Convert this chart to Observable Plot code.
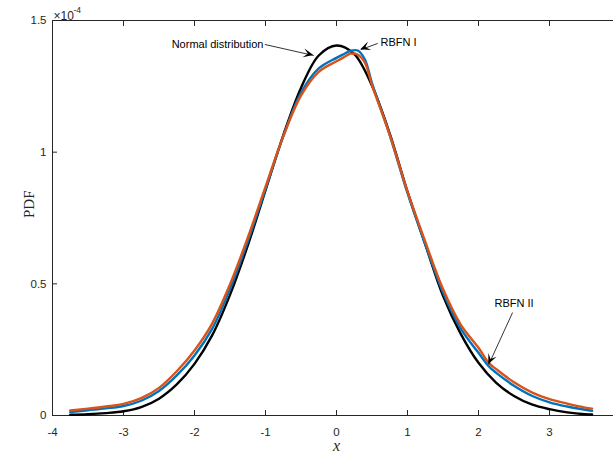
<!DOCTYPE html>
<html><head><meta charset="utf-8">
<script src="https://cdn.jsdelivr.net/npm/d3@7"></script>
<script src="https://cdn.jsdelivr.net/npm/@observablehq/plot@0.6"></script>
<style>body{margin:0;background:#fff}</style>
</head><body><div id="chart"></div>
<script>
// Normal distribution (black)
const xNormal = [-3.75,-3.5,-3.25,-3,-2.75,-2.5,-2.25,-2,-1.75,-1.5,-1.25,-1,-0.75,-0.5,-0.25,0,0.25,0.5,0.75,1,1.25,1.5,1.75,2,2.25,2.5,2.75,3,3.25,3.5,3.6];
const yNormal = [0.003,0.005,0.009,0.016,0.032,0.064,0.118,0.196,0.305,0.458,0.645,0.855,1.064,1.244,1.367,1.405,1.372,1.252,1.070,0.850,0.650,0.455,0.310,0.200,0.124,0.074,0.042,0.024,0.012,0.005,0.004];
// RBFN I (blue)
const xRbfn1 = [-3.75,-3.5,-3.25,-3,-2.75,-2.5,-2.25,-2,-1.75,-1.5,-1.25,-1,-0.75,-0.5,-0.25,0,0.1,0.2,0.3,0.4,0.5,0.75,1,1.25,1.5,1.75,2,2.15,2.25,2.5,2.75,3,3.25,3.5,3.6];
const yRbfn1 = [0.013,0.020,0.027,0.036,0.056,0.093,0.152,0.228,0.330,0.480,0.660,0.860,1.060,1.225,1.318,1.358,1.372,1.385,1.386,1.352,1.262,1.065,0.845,0.650,0.468,0.330,0.238,0.185,0.162,0.113,0.075,0.050,0.034,0.022,0.018];
// RBFN II (orange)
const xRbfn2 = xRbfn1;
const yRbfn2 = [0.019,0.026,0.034,0.044,0.066,0.105,0.168,0.247,0.350,0.498,0.675,0.868,1.060,1.215,1.305,1.345,1.360,1.374,1.370,1.340,1.255,1.066,0.850,0.660,0.480,0.345,0.257,0.198,0.176,0.126,0.088,0.062,0.045,0.030,0.026];

const xTicks = [-4,-3,-2,-1,0,1,2,3,4];
const yTicks = [0,0.5,1,1.5];

// annotations (data units)
const annText = ["Normal distribution","RBFN I","RBFN II"];
const annX = [-1.03, 0.62, 2.5];
const annY = [1.409, 1.418, 0.425];
const annAnchor = ["end","start","middle"];
const arrX1 = [-1.01, 0.58, 2.48];
const arrY1 = [1.409, 1.413, 0.391];
const arrX2 = [-0.32, 0.342, 2.145];
const arrY2 = [1.367, 1.389, 0.194];

const toRows = (xs, ys) => xs.map((x, i) => ({x, y: ys[i]}));
const normal = toRows(xNormal, yNormal);
const rbfn1 = toRows(xRbfn1, yRbfn1);
const rbfn2 = toRows(xRbfn2, yRbfn2);
const ann = annText.map((t, i) => ({t, x: annX[i], y: annY[i], a: annAnchor[i]}));
const arrows = arrX1.map((x1, i) => ({x1, y1: arrY1[i], x2: arrX2[i], y2: arrY2[i]}));

const axisColor = "#262626";
const font = "Liberation Sans, Arial, Helvetica, sans-serif";
const serif = "Liberation Serif, Times New Roman, serif";

const annMark = anchor => Plot.text(ann.filter(d => d.a === anchor), {x: "x", y: "y", text: "t", textAnchor: anchor, fill: "#000", fontSize: 11});

const chart = Plot.plot({
  width: 613, height: 452,
  marginLeft: 52, marginRight: 0, marginTop: 20, marginBottom: 37,
  x: {domain: [-4, 4], range: [52, 620], axis: null},
  y: {domain: [0, 1.5], axis: null},
  style: {fontFamily: font, fontSize: "11px", color: axisColor, background: "white"},
  marks: [
    Plot.ruleY([0], {stroke: axisColor}),
    Plot.ruleY([1.5], {stroke: axisColor}),
    Plot.ruleX([-4], {stroke: axisColor}),
    Plot.axisX({anchor: "bottom", ticks: xTicks, tickSize: 5, dy: -5, tickFormat: () => "", label: null, stroke: axisColor}),
    Plot.axisX({anchor: "top", ticks: xTicks, tickSize: 5, dy: 5, tickFormat: () => "", label: null, stroke: axisColor}),
    Plot.axisY({anchor: "left", ticks: yTicks, tickSize: 5, dx: 5, tickFormat: () => "", label: null, stroke: axisColor}),
    Plot.axisX({anchor: "bottom", ticks: xTicks.slice(0, 8), tickSize: 0, tickPadding: 12, tickFormat: d => String(d), label: null, fill: axisColor, fontSize: 11.5}),
    Plot.axisY({anchor: "left", ticks: yTicks, tickSize: 0, tickPadding: 6, tickFormat: d => String(d), label: null, fill: axisColor, fontSize: 11.5}),
    Plot.line(normal, {x: "x", y: "y", stroke: "#000000", strokeWidth: 2.4, curve: "catmull-rom"}),
    Plot.line(rbfn1, {x: "x", y: "y", stroke: "#0072BD", strokeWidth: 2.4, curve: "catmull-rom"}),
    Plot.line(rbfn2, {x: "x", y: "y", stroke: "#D95319", strokeWidth: 2.4, curve: "catmull-rom"}),
    Plot.link(arrows, {x1: "x1", y1: "y1", x2: "x2", y2: "y2", stroke: "#000", strokeWidth: 0.8}),
    annMark("end"), annMark("start"), annMark("middle"),
    Plot.text(["×10"], {frameAnchor: "top-left", dx: 1, dy: -9, textAnchor: "start", fill: axisColor, fontSize: 12}),
    Plot.text(["-4"], {frameAnchor: "top-left", dx: 21, dy: -14, textAnchor: "start", fill: axisColor, fontSize: 8.5}),
    Plot.text(["PDF"], {frameAnchor: "left", dx: -23, rotate: -90, fontFamily: serif, fontSize: 15, fill: axisColor}),
    Plot.text([0], {x: d => d, frameAnchor: "bottom", dy: 35, text: () => "x", fontFamily: serif, fontStyle: "italic", fontSize: 16, fill: axisColor})
  ]
});

// filled MATLAB-like arrow heads
const sx = chart.scale("x"), sy = chart.scale("y");
const svg = d3.select(chart);
arrows.forEach(a => {
  const p1 = [sx.apply(a.x1), sy.apply(a.y1)], p2 = [sx.apply(a.x2), sy.apply(a.y2)];
  const dx = p2[0] - p1[0], dy = p2[1] - p1[1], len = Math.hypot(dx, dy);
  const u = [dx / len, dy / len], n = [-u[1], u[0]];
  const L = 10, W = 4.5, N = 5.5;
  const pts = [
    p2,
    [p2[0] - L * u[0] + W * n[0], p2[1] - L * u[1] + W * n[1]],
    [p2[0] - N * u[0], p2[1] - N * u[1]],
    [p2[0] - L * u[0] - W * n[0], p2[1] - L * u[1] - W * n[1]]
  ];
  svg.append("path").attr("d", "M" + pts.map(p => p.join(",")).join("L") + "Z").attr("fill", "#000");
});

document.getElementById("chart").appendChild(chart);
</script>
</body></html>
